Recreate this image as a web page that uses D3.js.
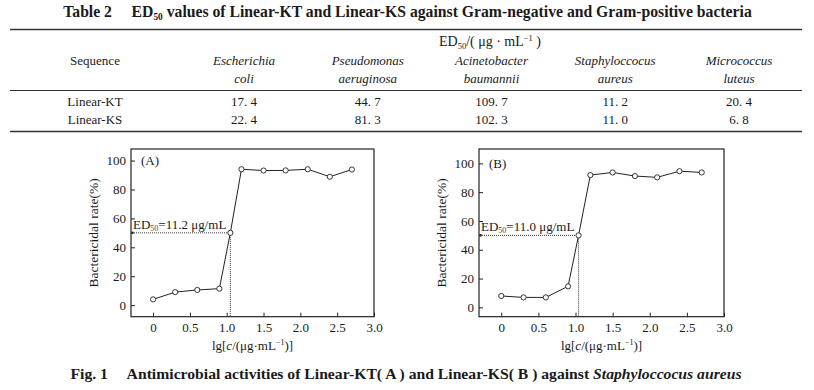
<!DOCTYPE html>
<html>
<head>
<meta charset="utf-8">
<script src="https://cdn.jsdelivr.net/npm/d3@7"></script>
<style>
  html, body { margin: 0; padding: 0; background: #fff; }
  svg { display: block; }
  svg text { font-family: "Liberation Serif", "Times New Roman", serif; }
</style>
</head>
<body>
<svg id="fig" width="814" height="390"></svg>
<script>
// ---------- table data ----------
const sequences = ["Linear-KT", "Linear-KS"];
const speciesGenus = ["Escherichia", "Pseudomonas", "Acinetobacter", "Staphyloccocus", "Micrococcus"];
const speciesEpithet = ["coli", "aeruginosa", "baumannii", "aureus", "luteus"];
const ed50KT = [17.4, 44.7, 109.7, 11.2, 20.4];
const ed50KS = [22.4, 81.3, 102.3, 11.0, 6.8];

// ---------- chart data ----------
const lgConcA = [0, 0.3, 0.6, 0.9, 1.049, 1.2, 1.5, 1.8, 2.1, 2.4, 2.7];
const rateA   = [4, 9, 10.5, 11.4, 50, 94, 93.1, 93.2, 94, 88.8, 93.8];
const lgConcB = [0, 0.3, 0.6, 0.9, 1.041, 1.2, 1.5, 1.8, 2.1, 2.4, 2.7];
const rateB   = [7.9, 6.9, 6.9, 14.6, 50, 91.9, 93.7, 91.2, 90.3, 94.6, 93.7];
const ed50A = 11.2, ed50B = 11.0;
const xTicks = [0, 0.5, 1.0, 1.5, 2.0, 2.5, 3.0];
const yTicks = [0, 20, 40, 60, 80, 100];

const svg = d3.select("#fig");
svg.append("rect").attr("width", 814).attr("height", 390).attr("fill", "#fff");

// squeeze a text horizontally to a target width (condensed look of the original)
function squeeze(sel, cx, cy, target) {
  const w = sel.node().getComputedTextLength();
  sel.attr("x", 0).attr("y", 0)
    .attr("transform", `translate(${cx},${cy}) scale(${(target / w).toFixed(4)},1)`);
}

// ---------- table ----------
const ink = "#1a1a1a";
const title = svg.append("text").attr("text-anchor", "middle")
  .attr("font-weight", "bold").attr("font-size", 16).attr("fill", ink);
title.append("tspan").text("Table 2\u2003 ED");
title.append("tspan").attr("font-size", "0.6em").attr("dy", 3).text("50");
title.append("tspan").attr("dy", -3).text(" values of Linear-KT and Linear-KS against Gram-negative and Gram-positive bacteria");
squeeze(title, 407.5, 17, 689);

const rule = (y, w) => svg.append("line").attr("x1", 10).attr("x2", 802).attr("y1", y).attr("y2", y)
  .attr("stroke", "#333").attr("stroke-width", w);
rule(29.5, 1.4); rule(90.5, 1); rule(131.5, 1.4);

const colX = d3.scalePoint().domain(d3.range(speciesGenus.length)).range([244, 739]);

const edHead = svg.append("text").attr("x", 490).attr("y", 46).attr("text-anchor", "middle")
  .attr("font-size", 14).attr("fill", ink);
edHead.append("tspan").text("ED");
edHead.append("tspan").attr("font-size", 8.5).attr("dy", 3).text("50");
edHead.append("tspan").attr("dy", -3).text("/( μg · mL");
edHead.append("tspan").attr("font-size", 8.5).attr("dy", -5).text("−1");
edHead.append("tspan").attr("dy", 5).text(" )");

svg.append("text").attr("x", 95).attr("y", 65).attr("text-anchor", "middle")
  .attr("font-size", 13).attr("fill", ink).text("Sequence");

speciesGenus.forEach((g, i) => {
  svg.append("text").attr("x", colX(i)).attr("y", 65).attr("text-anchor", "middle")
    .attr("font-size", 13).attr("font-style", "italic").attr("fill", ink).text(g);
  svg.append("text").attr("x", colX(i)).attr("y", 83).attr("text-anchor", "middle")
    .attr("font-size", 13).attr("font-style", "italic").attr("fill", ink).text(speciesEpithet[i]);
});

const fmt = v => d3.format(".1f")(v).replace(".", ". ");
[ed50KT, ed50KS].forEach((row, r) => {
  const y = [105.5, 124][r];
  svg.append("text").attr("x", 95).attr("y", y).attr("text-anchor", "middle")
    .attr("font-size", 13).attr("fill", ink).text(sequences[r]);
  row.forEach((v, i) => {
    svg.append("text").attr("x", colX(i)).attr("y", y).attr("text-anchor", "middle")
      .attr("font-size", 13).attr("fill", ink).text(fmt(v));
  });
});

// ---------- charts ----------
function drawChart(frame, xs, ys, ed50, tag, yDomain) {
  const g = svg.append("g");
  const x = d3.scaleLinear().domain([-0.3, 3.0]).range([frame.left, frame.right]);
  const y = d3.scaleLinear().domain(yDomain).range([frame.bottom, frame.top]);

  const xAxis = g.append("g").attr("transform", `translate(0,${frame.bottom})`)
    .call(d3.axisBottom(x).tickValues(xTicks).tickFormat(d => d === 0 ? "0" : d3.format(".1f")(d))
      .tickSizeInner(-4).tickSizeOuter(0).tickPadding(6));
  const yAxis = g.append("g").attr("transform", `translate(${frame.left},0)`)
    .call(d3.axisLeft(y).tickValues(yTicks).tickSizeInner(-4).tickSizeOuter(0).tickPadding(5));
  [xAxis, yAxis].forEach(a => {
    a.attr("font-family", null).attr("font-size", null);
    a.select(".domain").remove();
    a.selectAll("line").attr("stroke", "#222").attr("stroke-width", 1);
    a.selectAll("text").attr("font-size", 13).attr("fill", ink)
      .style("font-family", '"Liberation Serif", serif');
  });

  g.append("rect").attr("x", frame.left).attr("y", frame.top)
    .attr("width", frame.right - frame.left).attr("height", frame.bottom - frame.top)
    .attr("fill", "none").attr("stroke", "#222").attr("stroke-width", 1.2);

  // ED50 guides
  const ex = x(Math.log10(ed50)), ey = y(50);
  g.append("line").attr("x1", frame.left + 1).attr("x2", ex).attr("y1", ey).attr("y2", ey)
    .attr("stroke", "#333").attr("stroke-width", 1).attr("stroke-dasharray", "1,1");
  g.append("line").attr("x1", ex).attr("x2", ex).attr("y1", ey).attr("y2", frame.bottom)
    .attr("stroke", "#333").attr("stroke-width", 1).attr("stroke-dasharray", "1,1");
  g.append("circle").attr("cx", frame.left + 1.5).attr("cy", ey).attr("r", 1.3).attr("fill", "#222");

  const lbl = g.append("text").attr("x", frame.left + 2).attr("y", ey - 4)
    .attr("font-size", 13).attr("fill", ink);
  lbl.append("tspan").text("ED");
  lbl.append("tspan").attr("font-size", 8).attr("dy", 2).attr("fill", "#444").text("50");
  lbl.append("tspan").attr("dy", -2).text("=" + d3.format(".1f")(ed50) + " μg/mL");

  // data line + markers
  const pts = xs.map((v, i) => [v, ys[i]]);
  g.append("path").datum(pts)
    .attr("d", d3.line().x(d => x(d[0])).y(d => y(d[1])))
    .attr("fill", "none").attr("stroke", "#222").attr("stroke-width", 1);
  g.selectAll("circle.pt").data(pts).join("circle").attr("class", "pt")
    .attr("cx", d => x(d[0])).attr("cy", d => y(d[1])).attr("r", 2.6)
    .attr("fill", "#fff").attr("stroke", "#222").attr("stroke-width", 0.9);

  // panel tag
  g.append("text").attr("x", frame.left + 10).attr("y", y(100) + 4.5)
    .attr("font-size", 13).attr("fill", ink).text(tag);

  // axis titles
  g.append("text")
    .attr("transform", `translate(${frame.left - 38},${(frame.top + frame.bottom) / 2}) rotate(-90)`)
    .attr("text-anchor", "middle").attr("dy", "0.35em").attr("font-size", 13.5).attr("fill", ink)
    .text("Bactericidal rate(%)");
  const xt = g.append("text").attr("x", (frame.left + frame.right) / 2).attr("y", 350)
    .attr("text-anchor", "middle").attr("font-size", 13).attr("fill", ink);
  xt.append("tspan").text("lg[");
  xt.append("tspan").attr("font-style", "italic").text("c");
  xt.append("tspan").text("/(μg·mL");
  xt.append("tspan").attr("font-size", 8).attr("dy", -5).text("−1");
  xt.append("tspan").attr("dy", 5).text(")]");
}

drawChart({left: 131, right: 374, top: 149, bottom: 316.7}, lgConcA, rateA, ed50A, "(A)", [-8, 108]);
drawChart({left: 479, right: 724, top: 149, bottom: 316.7}, lgConcB, rateB, ed50B, "(B)", [-6.5, 110]);

// ---------- caption ----------
const cap = svg.append("text").attr("text-anchor", "middle")
  .attr("font-weight", "bold").attr("font-size", 15).attr("fill", ink);
cap.append("tspan").text("Fig. 1\u2003 Antimicrobial activities of Linear-KT( A )  and Linear-KS( B )  against ");
cap.append("tspan").attr("font-style", "italic").text("Staphyloccocus aureus");
squeeze(cap, 406, 379, 672);
</script>
</body>
</html>
